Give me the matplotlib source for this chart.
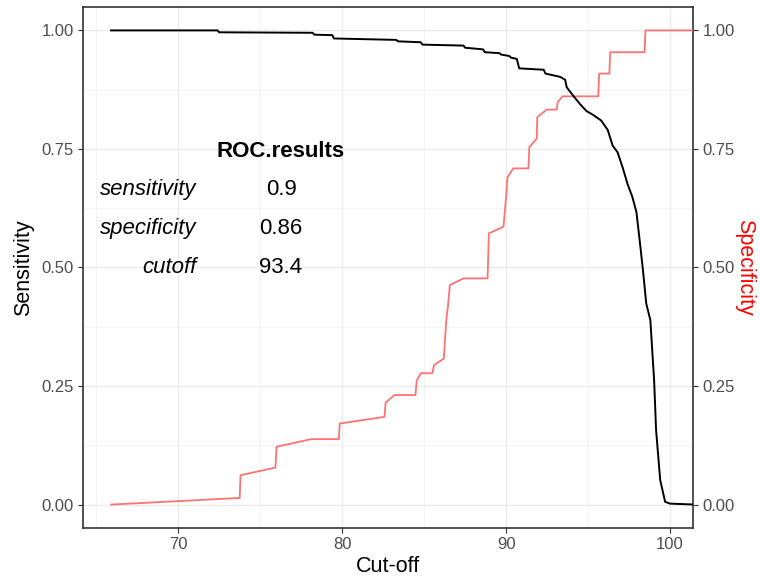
import matplotlib
matplotlib.use("Agg")
import matplotlib.pyplot as plt
from matplotlib.ticker import MultipleLocator

plt.rcParams['font.family'] = ['Liberation Sans', 'DejaVu Sans']

# sensitivity curve (black)
cutoff_sens = [65.9, 72.4, 72.5, 78.2, 78.3, 79.4, 79.5, 83.3, 83.4, 84.8, 84.9,
               87.4, 87.5, 88.6, 88.7, 89.6, 89.7, 90.2, 90.3, 90.65, 90.8, 92.3,
               92.4, 93.3, 93.6, 93.7, 94.1, 94.5, 94.9, 95.3, 95.8, 96.2, 96.5,
               96.8, 97.1, 97.4, 97.7, 97.95, 98.15, 98.35, 98.55, 98.8, 99.03,
               99.15, 99.4, 99.7, 100.0, 101.6]
sensitivity = [1.0, 1.0, 0.996, 0.995, 0.991, 0.99, 0.983, 0.98, 0.977, 0.975, 0.970,
               0.968, 0.9635, 0.96, 0.954, 0.952, 0.949, 0.946, 0.9425, 0.94, 0.92, 0.917,
               0.909, 0.902, 0.896, 0.88, 0.862, 0.845, 0.83, 0.822, 0.81, 0.79, 0.757,
               0.743, 0.712, 0.677, 0.649, 0.617, 0.557, 0.494, 0.424, 0.389, 0.262,
               0.157, 0.052, 0.006, 0.002, 0.0]

# specificity curve (red)
cutoff_spec = [65.9, 73.75, 73.8, 75.93, 76.0, 78.1, 79.8, 79.85, 82.58, 82.65, 83.19,
               84.47, 84.55, 84.8, 85.5, 85.6, 86.2, 86.35, 86.45, 86.57, 87.4, 88.87,
               88.95, 89.84, 90.0, 90.08, 90.44, 91.36, 91.42, 91.87, 91.9, 92.48,
               93.08, 93.15, 93.45, 95.62, 95.68, 96.3, 96.35, 98.45, 98.5, 101.6]
specificity = [0.0, 0.014, 0.062, 0.078, 0.122, 0.138, 0.138, 0.171, 0.185, 0.215, 0.231,
               0.231, 0.262, 0.277, 0.277, 0.294, 0.308, 0.389, 0.417, 0.463, 0.477, 0.477,
               0.572, 0.586, 0.649, 0.69, 0.709, 0.709, 0.754, 0.772, 0.817, 0.833,
               0.833, 0.849, 0.861, 0.861, 0.909, 0.909, 0.954, 0.954, 1.0, 1.0]

result_names = ['sensitivity', 'specificity', 'cutoff']
result_values = ['0.9', '0.86', '93.4']

fig = plt.figure(figsize=(7.6, 5.81), dpi=100)
ax = fig.add_axes([83 / 760, 1 - 528.3 / 581, 610.3 / 760, 521.6 / 581])

ax.plot(cutoff_spec, specificity, color='#FF7373', lw=1.3, zorder=3)
ax.plot(cutoff_sens, sensitivity, color='black', lw=1.4, zorder=4)

ax.set_xlim(64.19, 101.42)
ax.set_ylim(-0.05, 1.05)
ax.xaxis.set_major_locator(MultipleLocator(10))
ax.xaxis.set_minor_locator(MultipleLocator(5))
ax.yaxis.set_major_locator(MultipleLocator(0.25))
ax.yaxis.set_minor_locator(MultipleLocator(0.125))
ax.yaxis.set_major_formatter(plt.FormatStrFormatter('%.2f'))
ax.grid(which='major', color='#EBEBEB', lw=1.0)
ax.grid(which='minor', color='#F2F2F2', lw=0.6)
ax.set_axisbelow(True)
ax.tick_params(which='minor', length=0)
ax.tick_params(which='major', length=3.3, width=0.8, color='#333333',
               labelsize=12, labelcolor='#4D4D4D', pad=3.2)
for s in ax.spines.values():
    s.set_color('#333333')
    s.set_linewidth(1.2)

ax.set_xlabel('Cut-off', fontsize=15.5)
ax.set_ylabel('Sensitivity', fontsize=15.5)
ax.xaxis.set_label_coords(0.5, -0.074)
ax.xaxis.label.set_va('center')
ax.yaxis.set_label_coords(-0.0967, 0.5)
ax.yaxis.label.set_va('center')

ax2 = ax.twinx()
ax2.set_ylim(-0.05, 1.05)
ax2.yaxis.set_major_locator(MultipleLocator(0.25))
ax2.yaxis.set_major_formatter(plt.FormatStrFormatter('%.2f'))
ax2.tick_params(which='major', length=3.3, width=0.8, color='#333333',
                labelsize=12, labelcolor='#4D4D4D', pad=3.2)
ax2.tick_params(which='minor', length=0)
for s in ax2.spines.values():
    s.set_visible(False)
ax2.set_ylabel('Specificity', fontsize=15.5, color='red', rotation=270)
ax2.yaxis.set_label_coords(1.0847, 0.5)
ax2.yaxis.label.set_va('center')

# ROC results table
ax.text(76.27, 0.745, 'ROC.results', fontsize=16, fontweight='bold',
        ha='center', va='center')
for i, (nm, val) in enumerate(zip(result_names, result_values)):
    yy = 0.665 - i * 0.0825
    ax.text(71.14, yy, nm, fontsize=16, style='italic', ha='right', va='center')
    ax.text(76.27, yy, val, fontsize=16, ha='center', va='center')

fig.savefig('out.png', dpi=100)
